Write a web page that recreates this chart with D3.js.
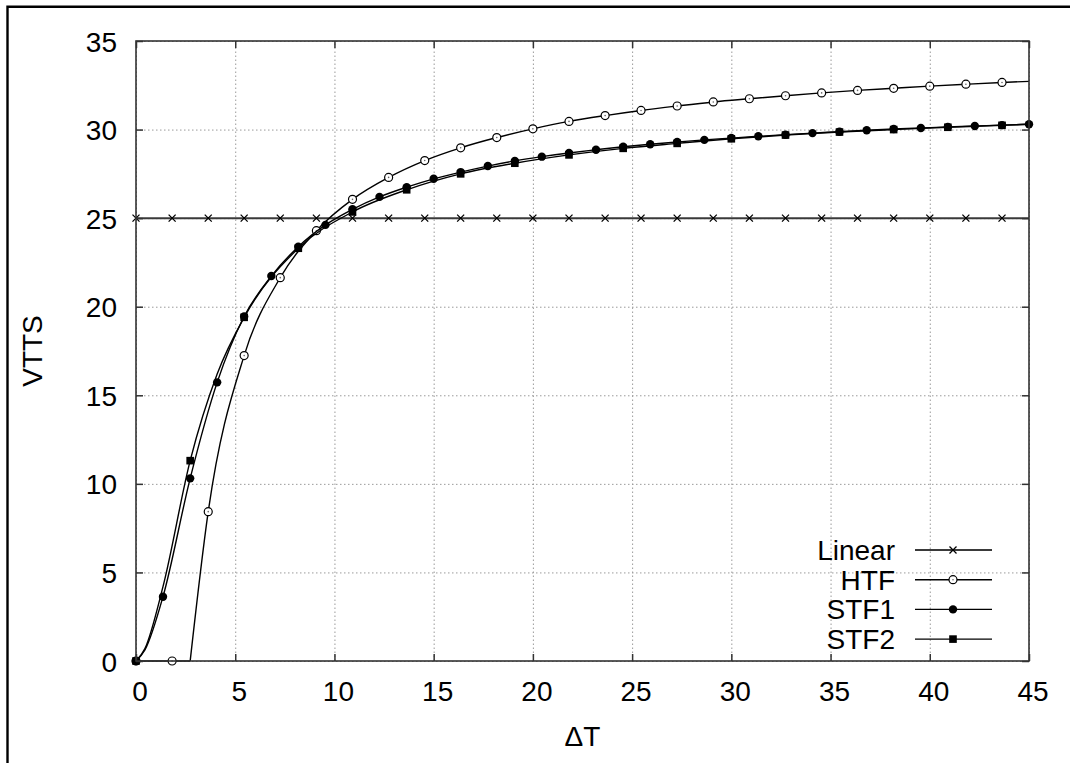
<!DOCTYPE html>
<html>
<head>
<meta charset="utf-8">
<script src="https://cdn.jsdelivr.net/npm/d3@7"></script>
<style>
  body { margin: 0; background: #fff; }
  svg { display: block; font-family: "Liberation Sans", Arial, Helvetica, sans-serif; }
</style>
</head>
<body>
<div id="chart"></div>
<script>
// tick labels
var xTicks = [0, 5, 10, 15, 20, 25, 30, 35, 40, 45];
var yTicks = [0, 5, 10, 15, 20, 25, 30, 35];
var seriesNames = ["Linear", "HTF", "STF1", "STF2"];

// marker points (DeltaT, VTTS)
var linearX = [0, 1.82, 3.64, 5.45, 7.27, 9.09, 10.91, 12.73, 14.55, 16.36, 18.18, 20, 21.82,
  23.64, 25.45, 27.27, 29.09, 30.91, 32.73, 34.55, 36.36, 38.18, 40, 41.82, 43.64];
var linearY = [25, 25, 25, 25, 25, 25, 25, 25, 25, 25, 25, 25, 25,
  25, 25, 25, 25, 25, 25, 25, 25, 25, 25, 25, 25];
var linearExtra = [[45, 25]];

var htfX = [0, 1.82, 3.64, 5.45, 7.27, 9.09, 10.91, 12.73, 14.55, 16.36, 18.18, 20, 21.82,
  23.64, 25.45, 27.27, 29.09, 30.91, 32.73, 34.55, 36.36, 38.18, 40, 41.82, 43.64];
var htfY = [0, 0, 8.43, 17.24, 21.64, 24.29, 26.06, 27.3, 28.25, 28.97, 29.55, 30.04, 30.46,
  30.79, 31.08, 31.33, 31.56, 31.74, 31.91, 32.07, 32.21, 32.33, 32.45, 32.56, 32.66];
var htfExtra = [[2.73, 0], [45, 32.72]];

var stf1X = [0, 1.36, 2.73, 4.09, 5.45, 6.82, 8.18, 9.55, 10.91, 12.27, 13.64, 15, 16.36, 17.73,
  19.09, 20.45, 21.82, 23.18, 24.55, 25.91, 27.27, 28.64, 30, 31.36, 32.73, 34.09, 35.45, 36.82,
  38.18, 39.55, 40.91, 42.27, 43.64, 45];
var stf1Y = [0, 3.63, 10.31, 15.73, 19.45, 21.73, 23.39, 24.62, 25.5, 26.2, 26.75, 27.22, 27.6, 27.94,
  28.23, 28.47, 28.68, 28.86, 29.03, 29.17, 29.3, 29.42, 29.52, 29.62, 29.71, 29.8, 29.88, 29.96,
  30.03, 30.09, 30.15, 30.2, 30.25, 30.3];
var stf1Extra = [[0.45, 0.62]];

var stf2X = [0, 2.73, 5.45, 8.18, 10.91, 13.64, 16.36, 19.09, 21.82, 24.55, 27.27, 30, 32.73,
  35.45, 38.18, 40.91, 43.64];
var stf2Y = [0, 11.31, 19.4, 23.3, 25.35, 26.6, 27.5, 28.1, 28.57, 28.94, 29.22, 29.48, 29.69,
  29.86, 30.0, 30.13, 30.24];
var stf2Extra = [[0.45, 0.7], [1.36, 4.2], [4.09, 16.2], [45, 30.3]];

var W = 1070, H = 763;
var plot = {left: 136, right: 1029, top: 41, bottom: 661};
var font = 28;

var svg = d3.select("#chart").append("svg")
    .attr("width", W)
    .attr("height", H);

// outer frame (runs off the right and bottom of the picture)
svg.append("path")
    .attr("d", "M7.5," + H + "V6.8H" + W)
    .attr("fill", "none")
    .attr("stroke", "#000")
    .attr("stroke-width", 2.4);

var x = d3.scaleLinear().domain([0, 45]).range([plot.left, plot.right]);
var y = d3.scaleLinear().domain([0, 35]).range([plot.bottom, plot.top]);
var pw = plot.right - plot.left, ph = plot.bottom - plot.top;

// dotted grid
var gridX = svg.append("g")
    .attr("transform", "translate(0," + plot.bottom + ")")
    .call(d3.axisBottom(x).tickValues(xTicks).tickSize(-ph).tickFormat(""));
var gridY = svg.append("g")
    .attr("transform", "translate(" + plot.left + ",0)")
    .call(d3.axisLeft(y).tickValues(yTicks).tickSize(-pw).tickFormat(""));
[gridX, gridY].forEach(function(g) {
  g.select(".domain").remove();
  g.selectAll("line")
      .attr("stroke", "#9a9a9a")
      .attr("stroke-width", 1)
      .attr("stroke-dasharray", "1.5,2.5");
});

// curves
var line = d3.line()
    .x(function(d) { return x(d[0]); })
    .y(function(d) { return y(d[1]); });

function points(xs, ys, extra) {
  var pts = xs.map(function(v, i) { return [v, ys[i]]; }).concat(extra);
  pts.sort(function(a, b) { return a[0] - b[0]; });
  return pts;
}

var series = [
  {name: "Linear", marks: points(linearX, linearY, []), pts: points(linearX, linearY, linearExtra), sym: "cross", width: 2, color: "#3a3a3a"},
  {name: "HTF", marks: points(htfX, htfY, []), pts: points(htfX, htfY, htfExtra), sym: "open", width: 1.4, color: "#000"},
  {name: "STF1", marks: points(stf1X, stf1Y, []), pts: points(stf1X, stf1Y, stf1Extra), sym: "dot", width: 1.4, color: "#000"},
  {name: "STF2", marks: points(stf2X, stf2Y, []), pts: points(stf2X, stf2Y, stf2Extra), sym: "square", width: 1.4, color: "#000"}
];

function drawMarker(g, sym, cx, cy) {
  if (sym === "cross") {
    g.append("path")
        .attr("d", "M" + (cx - 3.5) + "," + (cy - 3.5) + "l7,7M" + (cx - 3.5) + "," + (cy + 3.5) + "l7,-7")
        .attr("stroke", "#000").attr("stroke-width", 1.3);
  } else if (sym === "open") {
    g.append("circle").attr("cx", cx).attr("cy", cy).attr("r", 4)
        .attr("fill", "#fff").attr("stroke", "#000").attr("stroke-width", 1.2);
    g.append("circle").attr("cx", cx).attr("cy", cy).attr("r", 0.8).attr("fill", "#666");
  } else if (sym === "dot") {
    g.append("circle").attr("cx", cx).attr("cy", cy).attr("r", 4.2).attr("fill", "#000");
  } else {
    g.append("rect").attr("x", cx - 3.8).attr("y", cy - 3.8)
        .attr("width", 7.6).attr("height", 7.6).attr("fill", "#000");
  }
}

series.forEach(function(s) {
  var g = svg.append("g");
  // split where the curve leaves zero so the knee stays sharp
  var knee = -1;
  s.pts.forEach(function(p, i) { if (p[1] === 0) knee = i; });
  if (knee > 0) {
    g.append("path")
        .attr("d", line.curve(d3.curveLinear)(s.pts.slice(0, knee + 1)))
        .attr("fill", "none").attr("stroke", s.color).attr("stroke-width", s.width);
  }
  g.append("path")
      .attr("d", line.curve(d3.curveMonotoneX)(s.pts.slice(Math.max(knee, 0))))
      .attr("fill", "none").attr("stroke", s.color).attr("stroke-width", s.width);
  s.marks.forEach(function(p) { drawMarker(g, s.sym, x(p[0]), y(p[1])); });
});

// border with inward ticks on all four sides
var tickLen = 7;
var axes = [
  {a: d3.axisBottom(x).tickValues(xTicks), t: "translate(0," + plot.bottom + ")", label: true},
  {a: d3.axisTop(x).tickValues(xTicks), t: "translate(0," + plot.top + ")", label: false},
  {a: d3.axisLeft(y).tickValues(yTicks), t: "translate(" + plot.left + ",0)", label: true},
  {a: d3.axisRight(y).tickValues(yTicks), t: "translate(" + plot.right + ",0)", label: false}
];
axes.forEach(function(ax, k) {
  var g = svg.append("g")
      .attr("transform", ax.t)
      .call(ax.a.tickSizeInner(-tickLen).tickSizeOuter(0).tickPadding(0));
  g.select(".domain").remove();
  g.selectAll(".tick line").attr("stroke", "#333").attr("stroke-width", 1.5);
  if (!ax.label) {
    g.selectAll(".tick text").remove();
    return;
  }
  g.selectAll(".tick text")
      .attr("fill", "#000")
      .style("font-size", font + "px")
      .style("font-family", "'Liberation Sans', Arial, Helvetica, sans-serif");
  if (k === 0) {
    g.selectAll(".tick text").attr("dy", null).attr("y", 40).attr("x", 3.5);
  } else {
    g.selectAll(".tick text").attr("dy", null).attr("x", -19).attr("y", 10);
  }
});

svg.append("rect")
    .attr("x", plot.left).attr("y", plot.top)
    .attr("width", pw).attr("height", ph)
    .attr("fill", "none").attr("stroke", "#333").attr("stroke-width", 1.6);

// axis titles
svg.append("text")
    .attr("x", (plot.left + plot.right) / 2)
    .attr("y", 746)
    .attr("text-anchor", "middle")
    .style("font-size", font + "px")
    .text("ΔT");

svg.append("text")
    .attr("transform", "translate(42," + ((plot.top + plot.bottom) / 2) + ") rotate(-90)")
    .attr("text-anchor", "middle")
    .style("font-size", font + "px")
    .text("VTTS");

// legend
var legend = svg.append("g");
series.forEach(function(s, i) {
  var ly = 550 + i * 29.7;
  legend.append("text")
      .attr("x", 895).attr("y", ly + 10)
      .attr("text-anchor", "end")
      .style("font-size", font + "px")
      .text(seriesNames[i]);
  legend.append("line")
      .attr("x1", 915).attr("x2", 992).attr("y1", ly).attr("y2", ly)
      .attr("stroke", s.color).attr("stroke-width", s.width);
  drawMarker(legend, s.sym, 953, ly);
});
</script>
</body>
</html>
